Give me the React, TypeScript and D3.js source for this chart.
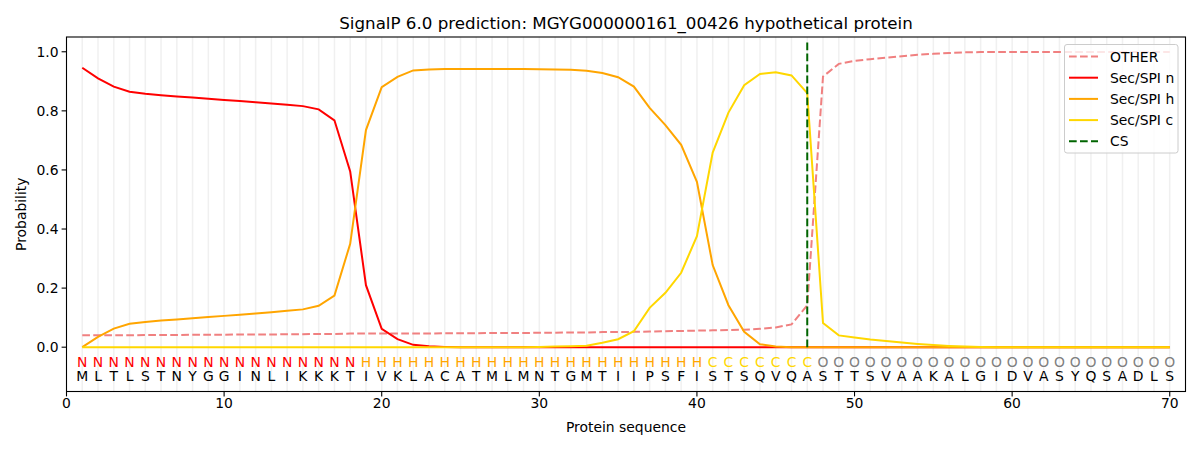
import React from "react";
import * as d3 from "d3";

const sequence = "MLTLSTNYGGINLIKKKTIVKLACATMLMNTGMTIIPSFISTSQVQASTTSVAAKALGIDVASYQSADLS".split("");
const regionLabels = "NNNNNNNNNNNNNNNNNNHHHHHHHHHHHHHHHHHHHHHHCCCCCCCOOOOOOOOOOOOOOOOOOOOOOO".split("");

const otherProb = [
  0.040, 0.040, 0.040, 0.040, 0.041, 0.041, 0.041, 0.042, 0.042, 0.042,
  0.043, 0.043, 0.043, 0.044, 0.044, 0.045, 0.045, 0.046, 0.046, 0.046,
  0.046, 0.046, 0.046, 0.047, 0.047, 0.047, 0.048, 0.048, 0.048, 0.049,
  0.049, 0.050, 0.050, 0.051, 0.051, 0.052, 0.053, 0.054, 0.055, 0.056,
  0.057, 0.058, 0.059, 0.062, 0.067, 0.077, 0.142, 0.916, 0.959, 0.969,
  0.975, 0.980, 0.985, 0.990, 0.993, 0.996, 0.998, 0.999, 0.999, 0.999,
  0.999, 0.999, 0.999, 0.999, 0.999, 0.999, 0.999, 0.999, 0.999, 0.999,
];
const secN = [
  0.946, 0.910, 0.882, 0.865, 0.858, 0.853, 0.849, 0.845, 0.841, 0.837,
  0.833, 0.829, 0.825, 0.821, 0.816, 0.805, 0.768, 0.595, 0.210, 0.062,
  0.027, 0.008, 0.003, 0.001, 0.000, 0.000, 0.000, 0.000, 0.000, 0.000,
  0.000, 0.000, 0.000, 0.000, 0.000, 0.000, 0.000, 0.000, 0.000, 0.000,
  0.000, 0.000, 0.000, 0.000, 0.000, 0.000, 0.000, 0.000, 0.000, 0.000,
  0.000, 0.000, 0.000, 0.000, 0.000, 0.000, 0.000, 0.000, 0.000, 0.000,
  0.000, 0.000, 0.000, 0.000, 0.000, 0.000, 0.000, 0.000, 0.000, 0.000,
];
const secH = [
  0.000, 0.035, 0.063, 0.079, 0.085, 0.090, 0.094, 0.098, 0.102, 0.106,
  0.110, 0.114, 0.118, 0.123, 0.128, 0.140, 0.175, 0.350, 0.735, 0.880,
  0.915, 0.937, 0.940, 0.942, 0.942, 0.942, 0.942, 0.942, 0.942, 0.941,
  0.940, 0.939, 0.936, 0.928, 0.914, 0.882, 0.810, 0.752, 0.685, 0.560,
  0.278, 0.142, 0.052, 0.010, 0.002, 0.000, 0.000, 0.000, 0.000, 0.000,
  0.000, 0.000, 0.000, 0.000, 0.000, 0.000, 0.000, 0.000, 0.000, 0.000,
  0.000, 0.000, 0.000, 0.000, 0.000, 0.000, 0.000, 0.000, 0.000, 0.000,
];
const secC = [
  0.000, 0.000, 0.000, 0.000, 0.000, 0.000, 0.000, 0.000, 0.000, 0.000,
  0.000, 0.000, 0.000, 0.000, 0.000, 0.000, 0.000, 0.000, 0.000, 0.000,
  0.000, 0.000, 0.000, 0.000, 0.000, 0.000, 0.000, 0.000, 0.000, 0.001,
  0.002, 0.003, 0.005, 0.015, 0.027, 0.054, 0.133, 0.184, 0.252, 0.376,
  0.659, 0.794, 0.887, 0.925, 0.931, 0.920, 0.860, 0.082, 0.040, 0.033,
  0.026, 0.021, 0.016, 0.011, 0.007, 0.004, 0.002, 0.001, 0.000, 0.000,
  0.000, 0.000, 0.000, 0.000, 0.000, 0.000, 0.000, 0.000, 0.000, 0.000,
];
const cleavageSite = 47;
const xTicks = [0, 10, 20, 30, 40, 50, 60, 70];
const yTicks = [0.0, 0.2, 0.4, 0.6, 0.8, 1.0];

const regionColor: Record<string, string> = { N: "#ff0000", H: "#ffa500", C: "#ffd700", O: "#808080" };

const series = [
  { name: "OTHER", values: otherProb, color: "#f08080", dash: "7.7,3.3" },
  { name: "Sec/SPI n", values: secN, color: "#ff0000", dash: "" },
  { name: "Sec/SPI h", values: secH, color: "#ffa500", dash: "" },
  { name: "Sec/SPI c", values: secC, color: "#ffd700", dash: "" },
];

export default function App() {
  const W = 1200, H = 450;
  const left = 66.5, right = 1185.5, top = 37, bottom = 391.5;
  const x = d3.scaleLinear().domain([0, 71]).range([left, right]);
  const y = d3.scaleLinear().domain([-0.15, 1.05]).range([bottom, top]);
  const positions = sequence.map((_, i) => i + 1);
  const line = d3.line<number>().x((_, i) => x(i + 1)).y((v) => y(v));
  const font = "DejaVu Sans, sans-serif";
  const fs = 13.9;

  const legendItems = [...series.map((s) => ({ name: s.name, color: s.color, dash: s.dash })), { name: "CS", color: "#006400", dash: "7.7,3.3" }];

  return (
    <svg width={W} height={H} style={{ position: "absolute", left: 0, top: 0, background: "#fff" }} fontFamily={font}>
      <rect x={0} y={0} width={W} height={H} fill="#fff" />
      <text x={(left + right) / 2} y={29} textAnchor="middle" fontSize={16.7} fill="#000">
        SignalP 6.0 prediction: MGYG000000161_00426 hypothetical protein
      </text>
      {positions.map((p) => (
        <line key={"g" + p} x1={x(p)} x2={x(p)} y1={top} y2={bottom} stroke="#ececec" strokeOpacity={0.8} strokeWidth={1.5} />
      ))}
      {series.map((s) => (
        <path key={s.name} d={line(s.values) || ""} fill="none" stroke={s.color} strokeWidth={2} strokeDasharray={s.dash || undefined} />
      ))}
      <line x1={x(cleavageSite)} x2={x(cleavageSite)} y1={y(0)} y2={y(1.04)} stroke="#006400" strokeWidth={2} strokeDasharray="7.7,3.3" />
      {positions.map((p, i) => (
        <g key={"s" + p}>
          <text x={x(p)} y={y(-0.05)} dy="0.36em" textAnchor="middle" fontSize={fs} fill={regionColor[regionLabels[i]]}>
            {regionLabels[i]}
          </text>
          <text x={x(p)} y={y(-0.097)} dy="0.36em" textAnchor="middle" fontSize={fs} fill="#000">
            {sequence[i]}
          </text>
        </g>
      ))}
      <rect x={left} y={top} width={right - left} height={bottom - top} fill="none" stroke="#000" strokeWidth={1.1} />
      {xTicks.map((t) => (
        <g key={"xt" + t}>
          <line x1={x(t)} x2={x(t)} y1={bottom} y2={bottom + 4.9} stroke="#000" strokeWidth={1.1} />
          <text x={x(t)} y={bottom + 16.5} textAnchor="middle" fontSize={fs} fill="#000">{t}</text>
        </g>
      ))}
      {yTicks.map((t) => (
        <g key={"yt" + t}>
          <line x1={left - 4.9} x2={left} y1={y(t)} y2={y(t)} stroke="#000" strokeWidth={1.1} />
          <text x={left - 8} y={y(t)} dy="0.36em" textAnchor="end" fontSize={fs} fill="#000">{t.toFixed(1)}</text>
        </g>
      ))}
      <text x={(left + right) / 2} y={432} textAnchor="middle" fontSize={fs} fill="#000">Protein sequence</text>
      <text transform={`translate(26,${(top + bottom) / 2}) rotate(-90)`} textAnchor="middle" fontSize={fs} fill="#000">Probability</text>
      <rect x={1064.5} y={44.5} width={113.5} height={108.5} rx={2.5} fill="#fff" fillOpacity={0.8} stroke="#cccccc" strokeWidth={1} />
      {legendItems.map((it, i) => {
        const ly = 56.5 + i * 21.2;
        return (
          <g key={"l" + it.name}>
            <line x1={1069} x2={1098} y1={ly} y2={ly} stroke={it.color} strokeWidth={2} strokeDasharray={it.dash || undefined} />
            <text x={1110} y={ly} dy="0.36em" fontSize={fs} fill="#000">{it.name}</text>
          </g>
        );
      })}
    </svg>
  );
}
